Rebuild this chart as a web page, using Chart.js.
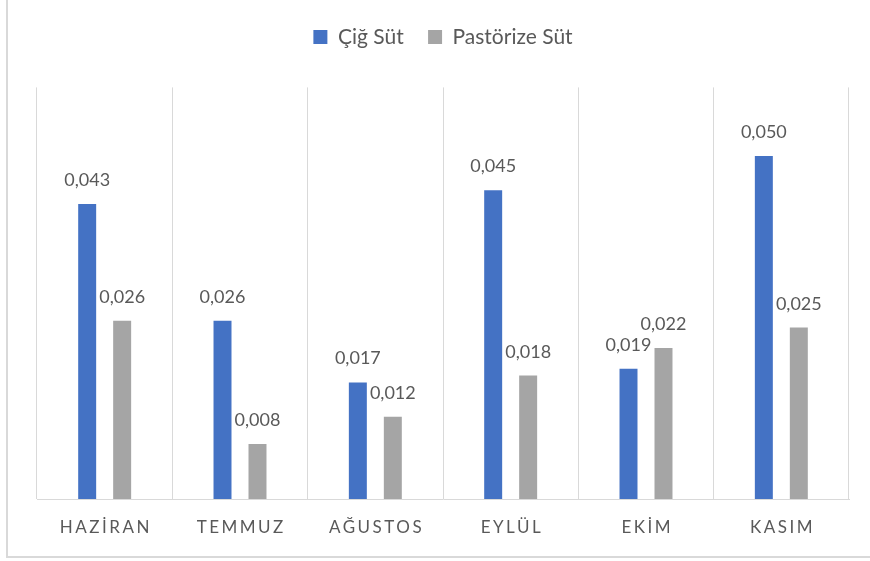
<!DOCTYPE html>
<html lang="tr">
<head>
<meta charset="UTF-8">
<title>Çiğ Süt / Pastörize Süt</title>
<script src="https://cdn.jsdelivr.net/npm/chart.js"></script>
<style>
    body {
        margin: 0;
        padding: 0;
        background: #ffffff;
        overflow: hidden;
    }

    .frame {
        position: absolute;
        left: 6px;
        top: 0;
        width: 880px;
        height: 556px;
        border-left: 2px solid #d9d9d9;
        border-bottom: 2px solid #d9d9d9;
    }

    .chart-box {
        position: absolute;
        left: 0;
        top: 0;
        width: 870px;
        height: 561px;
    }
</style>
</head>
<body>
<div class="frame"></div>
<div class="chart-box">
    <canvas id="sutChart"></canvas>
</div>

<script>
// data
var months = ['HAZİRAN', 'TEMMUZ', 'AĞUSTOS', 'EYLÜL', 'EKİM', 'KASIM'];
var cigSut = [0.043, 0.026, 0.017, 0.045, 0.019, 0.050];
var pastorizeSut = [0.026, 0.008, 0.012, 0.018, 0.022, 0.025];
var yMin = 0;
var yMax = 0.06;

var textGray = '#595959';
var gridGray = '#d9d9d9';

// value labels above each bar, Turkish decimal comma
var barValueLabels = {
    id: 'barValueLabels',
    afterDatasetsDraw: function (chart) {
        var ctx = chart.ctx;
        ctx.save();
        ctx.font = '18px Lato';
        ctx.fillStyle = textGray;
        ctx.textAlign = 'center';
        ctx.textBaseline = 'alphabetic';
        chart.data.datasets.forEach(function (ds, i) {
            var meta = chart.getDatasetMeta(i);
            meta.data.forEach(function (bar, j) {
                var txt = ds.data[j].toFixed(3).replace('.', ',');
                ctx.fillText(txt, bar.x, bar.y - 18);
            });
        });
        ctx.restore();
    }
};

// spaced-out month names on the x axis
var spacedTicks = {
    id: 'spacedTicks',
    beforeDraw: function (chart) {
        var sc = chart.scales.x;
        if (!sc || sc._spaced) return;
        var orig = sc.drawLabels;
        sc.drawLabels = function (area) {
            var c = this.ctx;
            c.save();
            c.letterSpacing = '2.5px';
            c.translate(1.25, 0);
            orig.call(this, area);
            c.restore();
        };
        sc._spaced = true;
    }
};

var ctx = document.getElementById('sutChart').getContext('2d');
var sutChart = new Chart(ctx, {
    type: 'bar',
    data: {
        labels: months,
        datasets: [{
            label: 'Çiğ Süt',
            data: cigSut,
            backgroundColor: '#4472c4',
            categoryPercentage: 0.517,
            barPercentage: 0.514
        }, {
            label: 'Pastörize Süt',
            data: pastorizeSut,
            backgroundColor: '#a5a5a5',
            categoryPercentage: 0.517,
            barPercentage: 0.514
        }]
    },
    options: {
        responsive: true,
        maintainAspectRatio: false,
        animation: false,
        layout: {
            padding: { left: 37, right: 21, top: 2, bottom: 0 }
        },
        plugins: {
            legend: {
                position: 'top',
                labels: {
                    boxWidth: 14,
                    boxHeight: 14,
                    padding: 24.4,
                    color: textGray,
                    font: { family: 'Lato', size: 21 }
                }
            },
            tooltip: { enabled: false }
        },
        scales: {
            x: {
                position: 'bottom',
                grid: {
                    display: true,
                    color: gridGray,
                    lineWidth: 1,
                    drawTicks: false
                },
                border: { display: true, color: gridGray, width: 1 },
                ticks: {
                    color: textGray,
                    padding: 18,
                    maxRotation: 0,
                    font: { family: 'Lato', size: 17 }
                },
                afterFit: function (scale) {
                    scale.height = 62;
                }
            },
            // empty spacer between legend and plot
            topGap: {
                type: 'category',
                position: 'top',
                grid: { display: false },
                border: { display: false },
                ticks: { display: false },
                afterFit: function (scale) {
                    scale.height = 30;
                }
            },
            y: {
                display: false,
                min: yMin,
                max: yMax
            }
        }
    },
    plugins: [barValueLabels, spacedTicks]
});
</script>
</body>
</html>
